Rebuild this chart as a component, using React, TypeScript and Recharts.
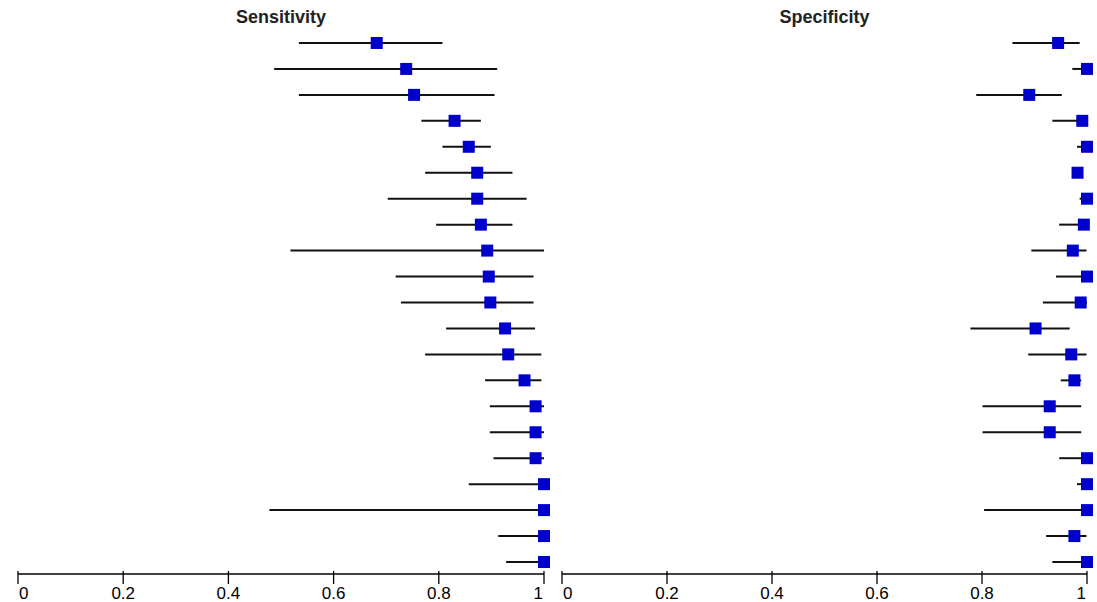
import React from 'react';
import { ScatterChart, Scatter, XAxis, YAxis, ErrorBar } from 'recharts';

// one entry per study, top to bottom
const sensEst = [0.682, 0.738, 0.753, 0.83, 0.857, 0.873, 0.873, 0.88, 0.892, 0.895, 0.898, 0.926, 0.932, 0.963, 0.984, 0.984, 0.984, 1, 1, 1, 1];
const sensLow = [0.534, 0.487, 0.534, 0.767, 0.807, 0.774, 0.703, 0.795, 0.518, 0.718, 0.728, 0.814, 0.774, 0.888, 0.897, 0.897, 0.904, 0.857, 0.478, 0.913, 0.928];
const sensHigh = [0.807, 0.911, 0.906, 0.88, 0.899, 0.94, 0.967, 0.94, 1, 0.98, 0.98, 0.983, 0.995, 0.995, 1, 1, 1, 1, 1, 1, 1];

const specEst = [0.945, 1, 0.89, 0.991, 1, 0.982, 1, 0.994, 0.973, 1, 0.988, 0.902, 0.97, 0.976, 0.929, 0.929, 1, 1, 1, 0.976, 1];
const specLow = [0.858, 0.972, 0.789, 0.934, 0.981, 0.974, 0.986, 0.947, 0.894, 0.941, 0.916, 0.778, 0.888, 0.95, 0.801, 0.801, 0.947, 0.981, 0.804, 0.922, 0.934];
const specHigh = [0.986, 1, 0.952, 0.998, 1, 0.99, 1, 1, 0.999, 1, 1, 0.967, 0.999, 0.989, 0.989, 0.989, 1, 1, 1, 0.999, 1];

const xTicks = [0, 0.2, 0.4, 0.6, 0.8, 1];

const FONT = '"Liberation Sans", Arial, sans-serif';

const toRows = (est: number[], low: number[], high: number[]) =>
  est.map((v, i) => ({ row: i, est: v, err: [v - low[i], high[i] - v] }));

const Square = (props: any) => {
  const { cx, cy } = props;
  return <rect x={cx - 6} y={cy - 6} width={12} height={12} fill="#0000cc" />;
};

const AxisTick = (props: any) => {
  const { x, y, payload } = props;
  const v = payload.value;
  const anchor = v === 0 ? 'start' : v === 1 ? 'end' : 'middle';
  const dx = v === 0 ? 1 : v === 1 ? -1 : 0;
  return (
    <g>
      <line x1={x} x2={x} y1={y - 5} y2={y + 8} stroke="#000" strokeWidth={1.3} />
      <text x={x + dx} y={y + 23} textAnchor={anchor} fontSize={17} fontFamily={FONT} fill="#000">
        {String(v)}
      </text>
    </g>
  );
};

const Panel: React.FC<{ title: string; left: number; width: number; ml: number; mr: number; data: any[] }> = ({ title, left, width, ml, mr, data }) => (
  <div style={{ position: 'absolute', left, top: 0, width, height: 602 }}>
    <div
      style={{
        position: 'absolute',
        left: ml,
        width: width - ml - mr,
        top: 8,
        textAlign: 'center',
        font: `bold 18px ${FONT}`,
        lineHeight: '18px',
        color: '#222',
      }}
    >
      {title}
    </div>
    <ScatterChart width={width} height={602} margin={{ top: 30, right: mr, bottom: 0, left: ml }} style={{ overflow: 'visible' }}>
      <XAxis
        type="number"
        dataKey="est"
        domain={[0, 1]}
        ticks={xTicks}
        height={28}
        tickSize={0}
        tickLine={false}
        axisLine={{ stroke: '#000', strokeWidth: 1.3 }}
        tick={<AxisTick />}
        interval={0}
      />
      <YAxis type="number" dataKey="row" domain={[-0.5, 20.462]} reversed hide />
      <Scatter data={data} shape={<Square />} isAnimationActive={false}>
        <ErrorBar dataKey="err" direction="x" width={0} stroke="#111" strokeWidth={2} isAnimationActive={false} />
      </Scatter>
    </ScatterChart>
  </div>
);

export default function App() {
  return (
    <div style={{ position: 'absolute', left: 0, top: 0, width: 1097, height: 602, background: '#fff', overflow: 'hidden' }}>
      <Panel title="Sensitivity" left={0} width={560} ml={18} mr={16} data={toRows(sensEst, sensLow, sensHigh)} />
      <Panel title="Specificity" left={548} width={549} ml={14} mr={10} data={toRows(specEst, specLow, specHigh)} />
    </div>
  );
}
